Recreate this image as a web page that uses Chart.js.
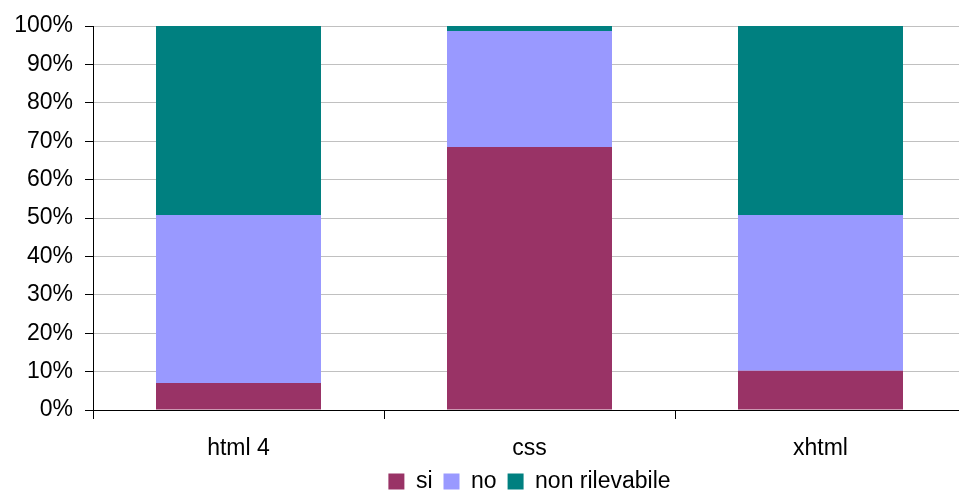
<!DOCTYPE html>
<html>
<head>
<meta charset="utf-8">
<script src="https://cdn.jsdelivr.net/npm/chart.js@4"></script>
<style>
  html, body { margin: 0; padding: 0; background: #fff; overflow: hidden; }
  #wrap { position: relative; width: 970px; height: 491px; }
</style>
</head>
<body>
<div id="wrap"><canvas id="chart"></canvas></div>
<script>
// Technologies surveyed and the share of answers per outcome (percent)
const categories = ['html 4', 'css', 'xhtml'];
const seriesNames = ['si', 'no', 'non rilevabile'];
const siValues = [7.0, 68.5, 10.2];
const noValues = [43.8, 30.2, 40.6];
const nonRilevabileValues = [49.2, 1.3, 49.2];
const yTicks = [0, 10, 20, 30, 40, 50, 60, 70, 80, 90, 100];

const colors = ['#993366', '#9999FF', '#008080'];
const FONT = { family: '"Liberation Sans", Arial, sans-serif', size: 23 };

const datasets = [siValues, noValues, nonRilevabileValues].map((vals, i) => ({
  label: seriesNames[i],
  data: vals,
  backgroundColor: colors[i],
  borderWidth: 0,
  categoryPercentage: 1,
  barPercentage: 0.567
}));

new Chart(document.getElementById('chart'), {
  type: 'bar',
  data: { labels: categories, datasets },
  options: {
    responsive: true,
    maintainAspectRatio: false,
    animation: false,
    layout: { padding: { top: 26, right: 4, left: 0, bottom: -12 } },
    plugins: {
      tooltip: { enabled: false },
      legend: {
        position: 'bottom',
        fullSize: false,
        labels: {
          font: FONT,
          color: '#000',
          boxWidth: 16,
          boxHeight: 16,
          padding: 11
        }
      }
    },
    scales: {
      x: {
        stacked: true,
        offset: true,
        grid: {
          offset: true,
          drawOnChartArea: false,
          drawTicks: true,
          tickLength: 9,
          tickColor: '#000'
        },
        border: { color: '#000', width: 1 },
        ticks: { font: FONT, color: '#000', padding: 16 },
        afterFit: s => { s.height = 49; }
      },
      y: {
        stacked: true,
        min: 0,
        max: 100,
        afterBuildTicks: s => { s.ticks = yTicks.map(v => ({ value: v })); },
        grid: {
          color: c => (c.tick && c.tick.value === 0 ? '#000' : '#c0c0c0'),
          tickLength: 8,
          tickColor: '#000'
        },
        border: { color: '#000', width: 1 },
        ticks: {
          font: FONT,
          color: '#000',
          padding: 12,
          callback: v => v + '%'
        },
        afterFit: s => { s.width = 93; }
      }
    }
  }
});
</script>
</body>
</html>
